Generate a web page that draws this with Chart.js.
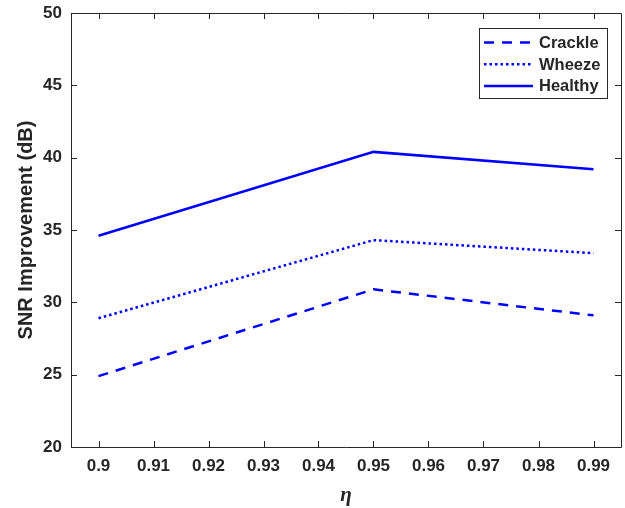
<!DOCTYPE html>
<html>
<head>
<meta charset="utf-8">
<script src="https://cdn.jsdelivr.net/npm/chart.js@4"></script>
<style>
  html, body { margin: 0; padding: 0; background: #fff; }
  #wrap { width: 625px; height: 508px; }
</style>
</head>
<body>
<div id="wrap"><canvas id="snrChart"></canvas></div>
<script>
/* Data */

const etaValues = [0.9, 0.95, 0.99];
const crackle = [24.9, 30.9, 29.1];
const wheeze = [28.9, 34.3, 33.4];
const healthy = [34.6, 40.4, 39.2];

const xTicks = [0.9, 0.91, 0.92, 0.93, 0.94, 0.95, 0.96, 0.97, 0.98, 0.99];
const yTicks = [20, 25, 30, 35, 40, 45, 50];

const axisColor = "#262626";
const fontFamily = "'Liberation Sans', Arial, sans-serif";

function points(values) {
    return etaValues.map((x, i) => ({ x: x, y: values[i] }));
}

/* Box, inward ticks, legend (MATLAB look) */

const matlabAxes = {
    id: "matlabAxes",
    afterDraw(chart) {
        const c = chart.ctx;
        const a = chart.chartArea;
        const xs = chart.scales.x;
        const ys = chart.scales.y;
        const tl = 6;

        c.save();
        c.strokeStyle = axisColor;
        c.lineWidth = 1;
        c.beginPath();
        c.rect(Math.round(a.left) + 0.5, Math.round(a.top) + 0.5,
               Math.round(a.right - a.left), Math.round(a.bottom - a.top));
        xTicks.forEach(v => {
            const px = Math.round(xs.getPixelForValue(v)) + 0.5;
            c.moveTo(px, a.bottom); c.lineTo(px, a.bottom - tl);
            c.moveTo(px, a.top); c.lineTo(px, a.top + tl);
        });
        yTicks.forEach(v => {
            const py = Math.round(ys.getPixelForValue(v)) + 0.5;
            c.moveTo(a.left, py); c.lineTo(a.left + tl, py);
            c.moveTo(a.right, py); c.lineTo(a.right - tl, py);
        });
        c.stroke();

        // legend box
        const bx = 479.5, by = 28.5, bw = 128, bh = 70;
        c.fillStyle = "#fff";
        c.fillRect(bx, by, bw, bh);
        c.strokeStyle = "#262626";
        c.strokeRect(bx, by, bw, bh);
        c.font = "bold 16.5px " + fontFamily;
        c.textBaseline = "middle";
        chart.data.datasets.forEach((ds, i) => {
            const ly = 42.5 + i * 21.7;
            c.strokeStyle = ds.borderColor;
            c.lineWidth = ds.borderWidth;
            c.setLineDash(ds.borderDash || []);
            c.beginPath();
            c.moveTo(484, ly);
            c.lineTo(533, ly);
            c.stroke();
            c.setLineDash([]);
            c.fillStyle = axisColor;
            c.fillText(ds.label, 539, ly + 1);
        });
        c.restore();
    }
};

/* Create Chart */

const ctx = document.getElementById("snrChart");

new Chart(ctx, {
    type: "line",
    data: {
        datasets: [
            {
                label: "Crackle",
                data: points(crackle),
                borderColor: "#0000FF",
                borderWidth: 2.5,
                borderDash: [10, 8],
                pointRadius: 0,
                tension: 0
            },
            {
                label: "Wheeze",
                data: points(wheeze),
                borderColor: "#0000FF",
                borderWidth: 2.5,
                borderDash: [2.5, 3],
                pointRadius: 0,
                tension: 0
            },
            {
                label: "Healthy",
                data: points(healthy),
                borderColor: "#0000FF",
                borderWidth: 2.5,
                pointRadius: 0,
                tension: 0
            }
        ]
    },
    options: {
        responsive: true,
        maintainAspectRatio: false,
        animation: false,
        layout: { padding: { top: 13, right: 4, left: 0, bottom: 0 } },
        plugins: {
            legend: { display: false },
            tooltip: { enabled: false }
        },
        scales: {
            x: {
                type: "linear",
                min: 0.895,
                max: 0.995,
                afterBuildTicks: s => { s.ticks = xTicks.map(v => ({ value: v })); },
                afterFit: s => { s.height = 61; s.paddingLeft = 0; s.paddingRight = 0; },
                grid: { display: false, drawTicks: false },
                border: { display: false },
                ticks: {
                    color: axisColor,
                    padding: 9,
                    maxRotation: 0,
                    font: { family: fontFamily, size: 17, weight: "bold" },
                    callback: v => String(parseFloat(v.toFixed(2)))
                },
                title: {
                    display: true,
                    text: "η",
                    color: axisColor,
                    padding: { top: 4, bottom: 0 },
                    font: { family: "'Liberation Serif', serif", size: 21, weight: "bold", style: "italic" }
                }
            },
            y: {
                min: 20,
                max: 50,
                afterBuildTicks: s => { s.ticks = yTicks.map(v => ({ value: v })); },
                afterFit: s => { s.width = 71; s.paddingTop = 0; s.paddingBottom = 0; },
                grid: { display: false, drawTicks: false },
                border: { display: false },
                ticks: {
                    color: axisColor,
                    padding: 9,
                    font: { family: fontFamily, size: 17, weight: "bold" }
                },
                title: {
                    display: true,
                    text: "SNR Improvement (dB)",
                    color: axisColor,
                    padding: { top: 14, bottom: 0 },
                    font: { family: fontFamily, size: 20, weight: "bold" }
                }
            }
        }
    },
    plugins: [matlabAxes]
});
</script>
</body>
</html>
